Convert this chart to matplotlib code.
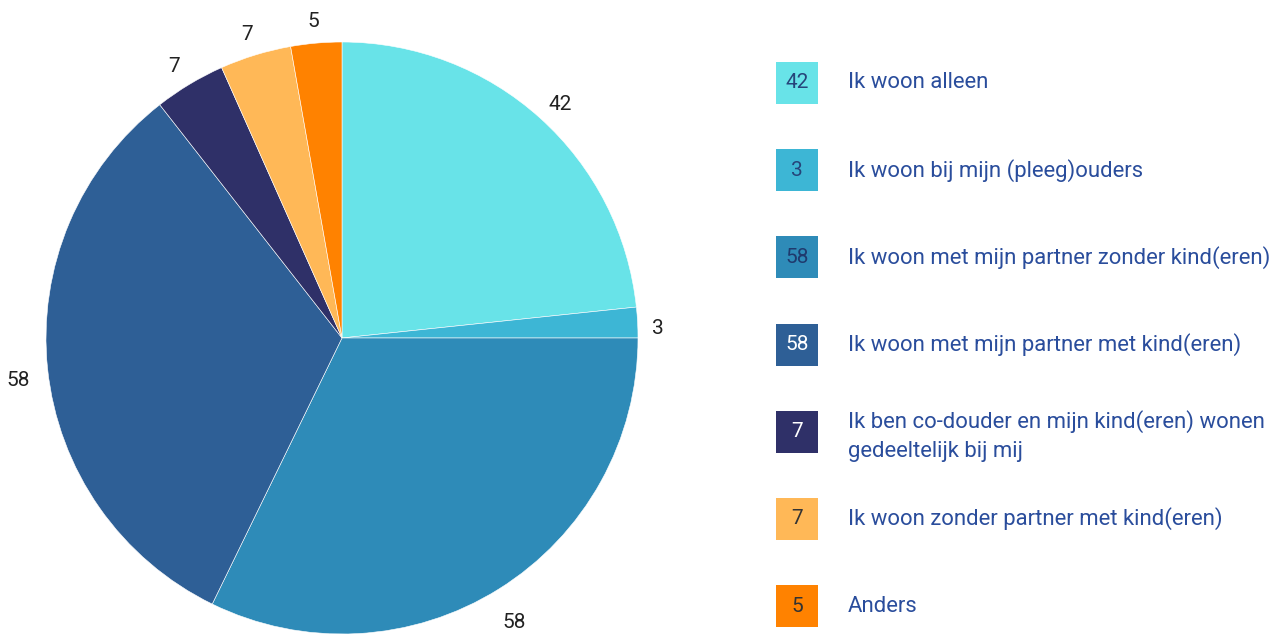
import matplotlib.pyplot as plt
from matplotlib.patches import Rectangle
from matplotlib.transforms import offset_copy

plt.rcParams['font.family'] = ['Roboto', 'DejaVu Sans']

labels = ["Ik woon alleen",
          "Ik woon bij mijn (pleeg)ouders",
          "Ik woon met mijn partner zonder kind(eren)",
          "Ik woon met mijn partner met kind(eren)",
          "Ik ben co-douder en mijn kind(eren) wonen\ngedeeltelijk bij mij",
          "Ik woon zonder partner met kind(eren)",
          "Anders"]
counts = [42, 3, 58, 58, 7, 7, 5]
colors = ["#68e3e8", "#3db6d5", "#2e8bb8", "#2e5f96", "#2f3068", "#ffb857", "#ff8200"]
box_text = ["#26457a", "#26457a", "#1f3a6e", "white", "white", "#333333", "#333333"]

W, H = 1282, 636
fig = plt.figure(figsize=(W / 100, H / 100), dpi=100)

# pie: centre (342, 338) px, radius 296 px
cx, cy, r = 342, 338, 296
ax = fig.add_axes([(cx - r) / W, (H - cy - r) / H, 2 * r / W, 2 * r / H])
wedges, texts = ax.pie(counts, colors=colors, startangle=90, counterclock=False,
                       labels=[str(c) for c in counts], labeldistance=1.1,
                       radius=1, wedgeprops=dict(edgecolor="white", linewidth=0.4),
                       textprops=dict(fontsize=15, color="#222222"))
# value labels sit a little lower than the wedge direction
shifted = offset_copy(ax.transData, fig=fig, x=0, y=-8, units='dots')
for t in texts:
    t.set_ha("center")
    t.set_va("center")
    t.set_transform(shifted)
texts[1].set_x(texts[1].get_position()[0] - 0.03)
ax.set_xlim(-1, 1)
ax.set_ylim(-1, 1)
ax.set_aspect("equal")
ax.axis("off")

# legend drawn by hand
box_x, box_w = 776, 42
y0, step = 83, 87.2
for i, (lab, c, col, tc) in enumerate(zip(labels, counts, colors, box_text)):
    yc = y0 + i * step
    fig.patches.append(Rectangle(((box_x) / W, (H - yc - box_w / 2) / H),
                                 box_w / W, box_w / H, transform=fig.transFigure,
                                 facecolor=col, edgecolor="none"))
    fig.text((box_x + box_w / 2) / W, (H - yc) / H, str(c), ha="center", va="center",
             fontsize=15, color=tc)
    ty = yc + (4 if "\n" in lab else 0)
    fig.text(848 / W, (H - ty) / H, lab, ha="left", va="center", fontsize=15.9,
             color="#2a4d9c", linespacing=1.52)

fig.savefig("out.png", dpi=100)
